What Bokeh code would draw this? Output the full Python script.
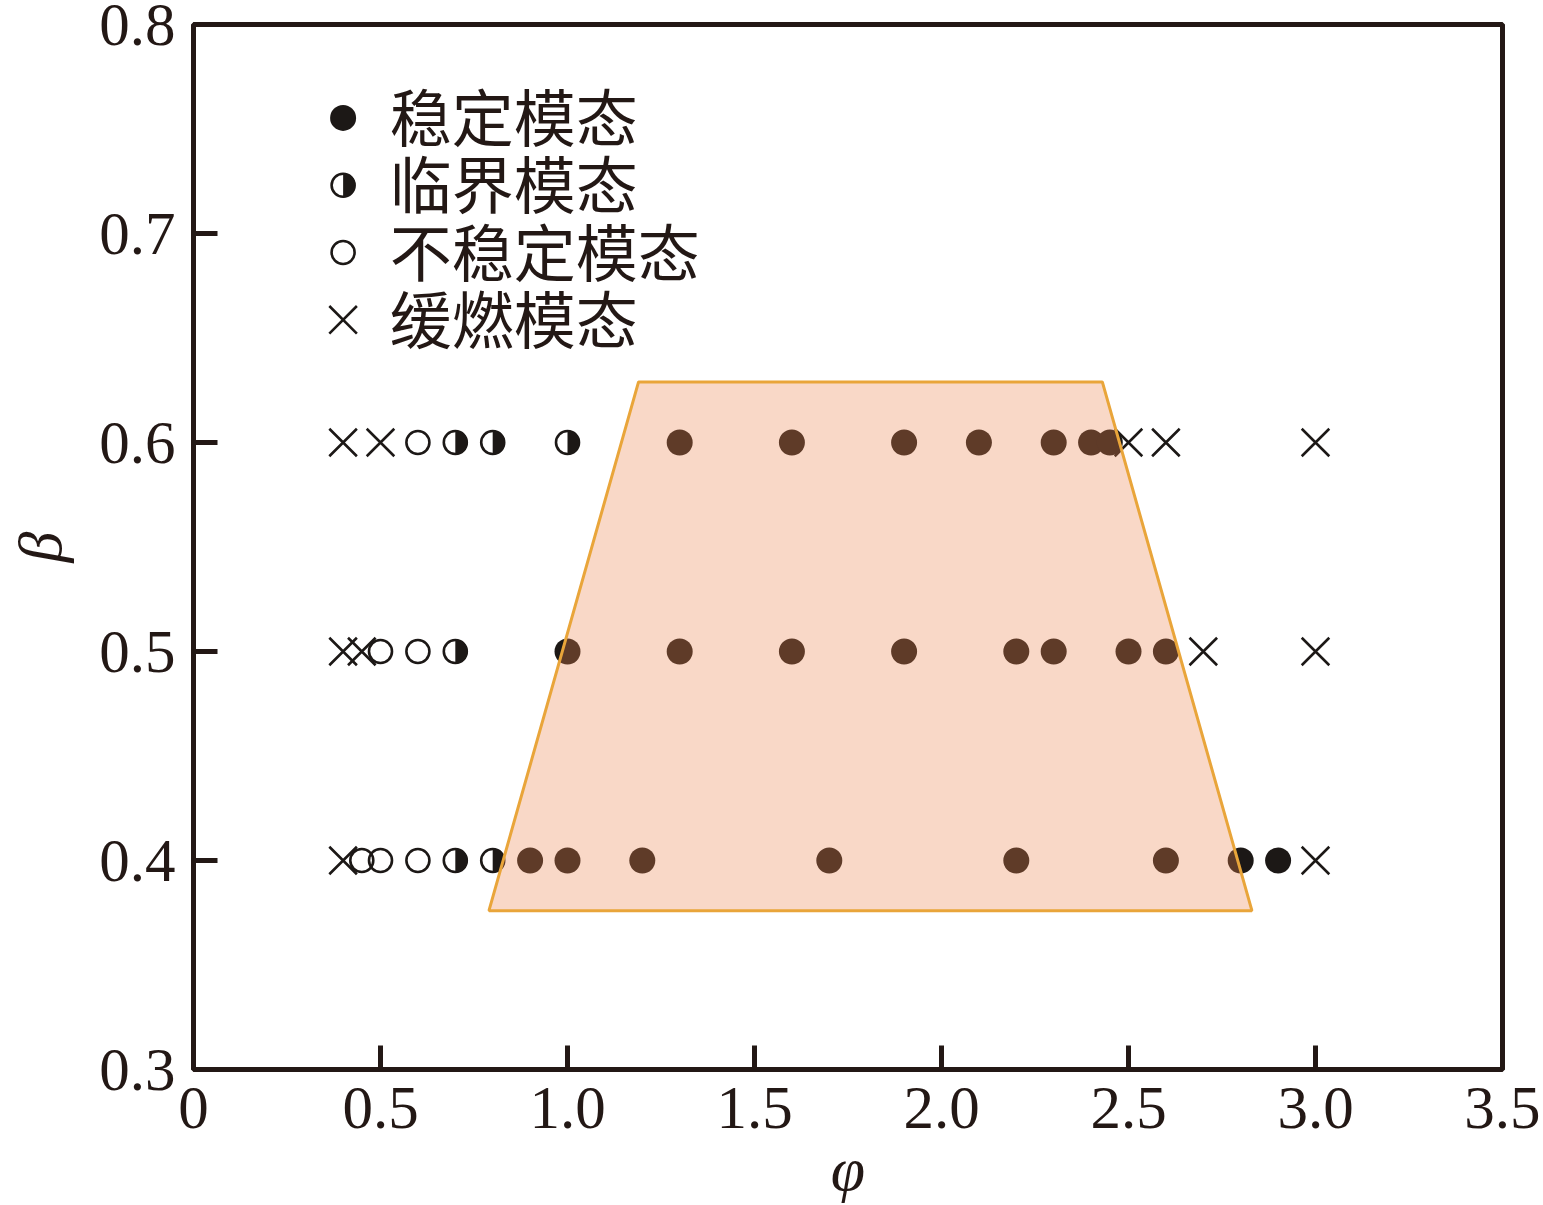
import math
from bokeh.plotting import figure
from bokeh.models import FixedTicker, Range1d
from bokeh.core.properties import value
from bokeh.embed import file_html
from bokeh.resources import INLINE

# ---------------- data ----------------
stable_x = [1.3, 1.6, 1.9, 2.1, 2.3, 2.4, 2.45,
            1.0, 1.3, 1.6, 1.9, 2.2, 2.3, 2.5, 2.6,
            0.9, 1.0, 1.2, 1.7, 2.2, 2.6, 2.8, 2.9]
stable_y = [0.6] * 7 + [0.5] * 8 + [0.4] * 8

critical_x = [0.7, 0.8, 1.0, 0.7, 0.7, 0.8]
critical_y = [0.6, 0.6, 0.6, 0.5, 0.4, 0.4]

unstable_x = [0.6, 0.5, 0.6, 0.45, 0.5, 0.6]
unstable_y = [0.6, 0.5, 0.5, 0.4, 0.4, 0.4]

slow_x = [0.4, 0.5, 2.5, 2.6, 3.0,
          0.4, 0.45, 2.7, 3.0,
          0.4, 3.0]
slow_y = [0.6] * 5 + [0.5] * 4 + [0.4] * 2

region_x = [0.79, 1.19, 2.43, 2.83]
region_y = [0.376, 0.629, 0.629, 0.376]

legend_labels = ["稳定模态", "临界模态", "不稳定模态", "缓燃模态"]

x_ticks = [0, 0.5, 1.0, 1.5, 2.0, 2.5, 3.0, 3.5]
x_tick_labels = ["0", "0.5", "1.0", "1.5", "2.0", "2.5", "3.0", "3.5"]
y_ticks = [0.3, 0.4, 0.5, 0.6, 0.7, 0.8]
y_tick_labels = ["0.3", "0.4", "0.5", "0.6", "0.7", "0.8"]
x_title = "φ"
y_title = "β"

# ---------------- style ----------------
INK = "#231815"
DOT = "#1c1816"
SERIF = "Liberation Serif"
CJK = "Noto Sans CJK SC"

BL, BR, BT, BB = 193, 38, 24, 135
FW, FH = 1309, 1046
X0, X1, Y0, Y1 = 0, 3.5, 0.3, 0.8

p = figure(width=BL + FW + BR, height=BT + FH + BB,
           x_range=Range1d(X0, X1), y_range=Range1d(Y0, Y1),
           output_backend="svg", toolbar_location=None,
           min_border_left=BL, min_border_right=BR,
           min_border_top=BT, min_border_bottom=BB)
p.background_fill_color = "white"
p.border_fill_color = "white"
p.grid.visible = False
p.outline_line_color = INK
p.outline_line_width = 5

for ax in (p.xaxis[0], p.yaxis[0]):
    ax.axis_line_color = None
    ax.major_tick_in = 24
    ax.major_tick_out = 0
    ax.major_tick_line_width = 5
    ax.major_tick_line_color = INK
    ax.minor_tick_line_color = None
    ax.major_label_text_font = SERIF
    ax.major_label_text_font_size = "61px"
    ax.major_label_text_color = INK
    ax.axis_label_text_font = SERIF
    ax.axis_label_text_font_style = "italic"
    ax.axis_label_text_font_size = "62px"
    ax.axis_label_text_color = INK

p.xaxis.ticker = FixedTicker(ticks=x_ticks)
p.xaxis.major_label_overrides = {t: l for t, l in zip(x_ticks, x_tick_labels)}
p.yaxis.ticker = FixedTicker(ticks=y_ticks)
p.yaxis.major_label_overrides = {t: l for t, l in zip(y_ticks, y_tick_labels)}
p.xaxis.axis_label = x_title
p.yaxis.axis_label = y_title
p.xaxis.major_label_standoff = 18
p.yaxis.major_label_standoff = 18
p.xaxis.axis_label_standoff = 4
p.yaxis.axis_label_standoff = 22

# ---------------- legend layout (manual) ----------------
leg_x0 = 0.4
leg_text_x = 0.525
leg_y0 = 0.7553
leg_step = 0.0322
leg_y = [leg_y0 - i * leg_step for i in range(len(legend_labels))]


def draw_filled(xs, ys):
    p.scatter(xs, ys, marker="circle", size=26, fill_color=DOT, line_color=DOT, line_width=0)


def draw_half(xs, ys):
    p.scatter(xs, ys, marker="circle", size=23, fill_color="white", line_color=DOT, line_width=2.6)
    p.wedge(xs, ys, radius=12.2, radius_units="screen",
            start_angle=-math.pi / 2, end_angle=math.pi / 2,
            fill_color=DOT, line_color=None)


def draw_open(xs, ys):
    p.scatter(xs, ys, marker="circle", size=23, fill_color=None, line_color=DOT, line_width=2.6)


def draw_cross(xs, ys):
    p.scatter(xs, ys, marker="x", size=39, line_color=DOT, line_width=2.6)


draw_filled(stable_x, stable_y)
draw_half(critical_x, critical_y)
draw_open(unstable_x, unstable_y)
draw_cross(slow_x, slow_y)

# stable region
p.patch(region_x, region_y, fill_color="#ED8550", fill_alpha=0.32,
        line_color="#E9A53A", line_width=3)

# legend
draw_filled([leg_x0], [leg_y[0]])
draw_half([leg_x0], [leg_y[1]])
draw_open([leg_x0], [leg_y[2]])
draw_cross([leg_x0], [leg_y[3]])
p.text(x=[leg_text_x] * len(legend_labels), y=leg_y, text=legend_labels,
       text_font=value(CJK), text_font_size="62px", text_color=INK,
       text_baseline="middle", text_align="left", y_offset=-3)

open("out.html", "w").write(file_html(p, INLINE))
